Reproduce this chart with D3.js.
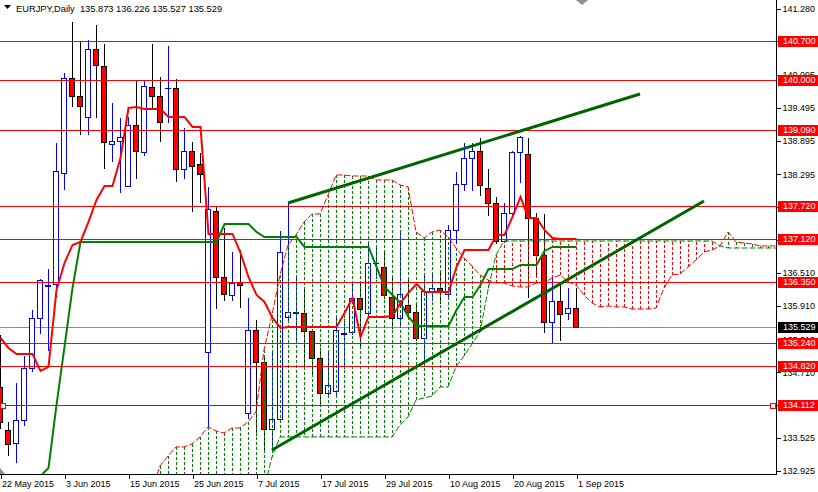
<!DOCTYPE html>
<html><head><meta charset="utf-8">
<script src="https://cdn.jsdelivr.net/npm/d3@7"></script>
<style>
body{margin:0;background:#fff;}
svg{display:block;font-family:"Liberation Sans",Arial,sans-serif;}
</style></head>
<body><svg id="c" width="818" height="492"></svg>
<script>
// ---------- data ----------
const symbolTitle = "EURJPY,Daily  135.873 136.226 135.527 135.529";
const dateLabels = ["22 May 2015","3 Jun 2015","15 Jun 2015","25 Jun 2015","7 Jul 2015","17 Jul 2015","29 Jul 2015","10 Aug 2015","20 Aug 2015","1 Sep 2015"];
const dateTickIndex = [0,8,16,24,32,40,48,56,64,72];
const yTicks = [141.280,140.695,140.095,139.495,138.895,138.295,137.695,137.095,136.510,135.910,135.310,134.710,134.110,133.525,132.925];
const yTicksHiddenLabel = [140.695,137.695,137.095,134.110];

const open = [134.445,133.667,133.432,133.848,134.789,135.693,136.271,136.307,138.315,140.033,
139.707,139.327,140.557,140.250,138.839,138.893,138.080,139.183,138.694,139.870,
139.707,139.845,139.852,138.387,138.712,138.477,135.078,137.628,136.434,136.109,
136.325,133.975,135.476,134.898,133.685,133.866,135.711,135.790,135.783,135.457,
134.970,134.337,134.373,135.410,135.439,136.054,135.783,136.680,136.615,136.072,
135.693,135.928,135.801,135.331,136.163,136.235,136.127,137.284,138.116,138.586,
138.712,138.043,137.772,137.085,137.591,138.694,138.658,137.501,136.832,135.621,
136.000,135.783,135.873];
const high = [135.385,133.812,134.517,135.006,135.837,136.398,136.579,138.857,140.123,141.045,
140.684,140.720,140.991,140.647,139.580,139.309,139.327,139.978,139.978,140.647,
140.051,140.611,140.014,139.128,138.875,138.676,138.062,137.718,137.320,136.886,
136.922,136.054,135.657,134.970,135.078,137.266,137.772,136.416,136.235,135.457,
135.151,135.114,135.747,135.675,136.344,136.344,137.067,136.958,136.922,136.434,
137.284,136.434,135.964,136.506,136.506,136.525,137.374,138.333,138.857,138.857,
138.948,138.387,137.881,137.772,138.712,138.984,138.948,137.591,137.573,136.416,
136.344,136.235,136.226];
const low = [133.703,133.215,133.089,133.758,134.735,135.421,135.114,136.072,138.025,139.526,
139.020,139.020,139.327,138.405,138.532,137.971,138.080,138.224,138.640,139.490,
138.893,139.237,138.170,138.224,137.628,137.790,133.740,135.874,136.018,136.018,
135.892,133.884,133.580,133.306,133.306,133.866,135.621,135.241,134.843,134.698,
134.156,134.300,134.300,134.789,135.403,135.205,135.747,136.416,136.054,135.512,
135.530,135.711,135.295,134.988,136.018,135.964,136.072,137.049,138.007,138.007,
137.917,137.555,137.049,137.067,137.555,138.152,136.072,136.434,135.439,135.259,
135.295,135.675,135.527];
const close = [133.812,133.414,133.848,134.789,135.693,136.380,136.289,138.351,140.033,139.707,
139.526,140.557,140.268,138.875,138.893,138.966,139.183,138.712,139.888,139.707,
139.237,139.852,138.387,138.712,138.441,138.297,137.664,136.434,136.127,136.325,
136.289,135.476,134.898,133.685,133.866,136.886,135.801,135.801,135.457,134.970,
134.337,134.481,135.476,135.421,136.054,135.855,136.687,136.687,136.109,135.693,
136.127,135.801,135.331,136.181,136.235,136.163,137.284,138.116,138.586,138.712,
138.098,137.772,137.085,137.591,138.694,138.966,137.501,136.832,135.621,136.000,
135.765,135.874,135.529];

const tenkan = [135.331,135.150,135.042,135.042,135.042,134.734,134.807,136.199,136.687,137.013,
137.067,137.429,137.826,138.080,138.080,138.586,139.490,139.508,139.472,139.472,
139.472,139.327,139.327,139.327,139.147,139.147,137.212,137.212,137.212,137.212,
136.868,136.434,136.108,135.982,135.693,135.512,135.530,135.530,135.530,135.530,
135.530,135.530,135.530,135.783,136.054,135.349,135.711,135.711,135.711,135.729,
135.964,136.145,136.307,136.163,136.163,136.163,136.163,136.615,136.922,136.922,
136.922,136.922,137.194,137.194,137.519,137.881,137.501,137.501,137.284,137.139,
137.121,137.121,137.121];
const kijun = [132.300,132.300,132.300,132.300,132.300,132.835,132.980,134.119,135.168,136.235,
137.067,137.067,137.067,137.067,137.067,137.067,137.067,137.067,137.067,137.067,
137.067,137.067,137.067,137.067,137.067,137.067,137.067,137.067,137.392,137.392,
137.392,137.392,137.248,137.157,137.157,137.157,137.157,137.157,136.977,136.977,
136.977,136.977,136.977,136.977,136.977,136.977,136.977,136.615,136.253,136.109,
135.964,135.711,135.548,135.548,135.548,135.548,135.548,135.837,136.072,136.072,
136.289,136.579,136.579,136.579,136.579,136.651,136.651,136.651,136.904,136.977,
136.977,136.977,136.977];

const spanStart = 19;
const spanA = [132.582,133.016,133.197,133.360,133.360,133.414,133.541,133.722,133.649,133.613,
133.703,133.703,133.812,133.993,135.114,135.747,136.470,137.013,137.194,137.429,
137.573,137.573,137.917,138.278,138.278,138.260,138.260,138.260,138.188,138.188,
138.188,138.098,138.062,137.248,137.139,137.248,137.284,137.157,136.958,136.778,
136.633,136.470,136.380,136.325,136.325,136.271,136.253,136.253,136.325,136.325,
136.416,136.470,136.344,136.289,136.109,135.964,135.892,135.910,135.892,135.892,
135.855,135.855,135.855,135.874,136.235,136.470,136.488,136.615,136.741,136.886,
136.922,136.995,137.248,137.067,137.049,137.031,136.995,136.995,136.995];
const spanB = [132.300,132.300,132.300,132.300,132.300,132.300,132.300,132.300,132.300,132.300,
132.300,132.300,132.300,132.300,132.600,133.179,133.541,133.541,133.541,133.541,
133.541,133.541,133.541,133.541,133.541,133.541,133.541,133.541,133.541,133.541,
133.541,133.758,133.902,134.210,134.246,134.282,134.445,134.445,134.807,135.006,
135.222,135.440,136.199,136.832,137.085,137.085,137.085,137.085,137.085,137.085,
137.085,137.085,137.085,137.085,137.085,137.085,137.085,137.085,137.085,137.085,
137.085,137.085,137.085,137.085,137.085,137.085,137.085,137.085,137.085,137.085,
137.085,136.995,136.958,136.958,136.958,136.958,136.958,136.958,136.958];

const levels = [140.700,140.000,139.090,137.720,137.120,136.350,135.240,134.820,134.112];
const lastPrice = 135.529;
const trendUpper = [[36,137.772],[80,139.743]];
const trendLower = [[34,133.306],[88,137.808]];

// ---------- drawing ----------
const svg = d3.select("#c");
const plotR = 776, plotB = 474;
const x = d3.scaleLinear().domain([0,97]).range([0,776]);
const y = d3.scaleLinear().domain([132.925,141.280]).range([471,9]);
const px = i => Math.round(x(i));
const py = v => Math.round(y(v));

svg.append("rect").attr("width",818).attr("height",492).attr("fill","#fff");
svg.append("defs").append("clipPath").attr("id","plot")
  .append("rect").attr("x",0).attr("y",0).attr("width",plotR).attr("height",plotB);
const g = svg.append("g").attr("clip-path","url(#plot)");

// current price line (behind)
g.append("line").attr("x1",0).attr("x2",plotR)
  .attr("y1",py(lastPrice)+0.5).attr("y2",py(lastPrice)+0.5)
  .attr("stroke","#8a8f96").attr("shape-rendering","crispEdges");

// candles
const idx = d3.range(open.length);
const cg = g.append("g").attr("shape-rendering","crispEdges");
cg.selectAll("line.wick").data(idx).join("line").attr("class","wick")
  .attr("x1",i=>px(i)+0.5).attr("x2",i=>px(i)+0.5)
  .attr("y1",i=>py(high[i])).attr("y2",i=>py(low[i])+1)
  .attr("stroke",i=>close[i]>=open[i]?"#0000ff":"#000000");
idx.forEach(i=>{
  const bull = close[i]>=open[i];
  const top = py(Math.max(open[i],close[i])), bot = py(Math.min(open[i],close[i]));
  const xc = px(i);
  if (bot-top < 1) {
    cg.append("line").attr("x1",xc-3).attr("x2",xc+3).attr("y1",top+0.5).attr("y2",top+0.5)
      .attr("stroke",bull?"#0000ff":"#000").attr("stroke-width",1);
  } else {
    cg.append("rect").attr("x",xc-2.5).attr("y",top+0.5).attr("width",5).attr("height",bot-top)
      .attr("fill",bull?"#ffffff":"#ff0000").attr("stroke",bull?"#0000ff":"#000000");
  }
});

// ichimoku cloud hatching
const sIdx = d3.range(spanA.length);
g.append("g").attr("shape-rendering","crispEdges")
  .selectAll("line").data(sIdx).join("line")
  .attr("x1",k=>px(k+spanStart)+0.5).attr("x2",k=>px(k+spanStart)+0.5)
  .attr("y1",k=>y(spanA[k])).attr("y2",k=>y(spanB[k]))
  .attr("stroke",k=>spanA[k]>=spanB[k]?"#008000":"#ff0000")
  .attr("stroke-dasharray","3,2").attr("stroke-width",1);

g.append("path").datum(sIdx)
  .attr("d",d3.line().x(k=>x(k+spanStart)).y(k=>y(spanA[k])))
  .attr("fill","none").attr("stroke","#ff0000").attr("stroke-width",1).attr("stroke-dasharray","6,2");
g.append("path").datum(sIdx)
  .attr("d",d3.line().x(k=>x(k+spanStart)).y(k=>y(spanB[k])))
  .attr("fill","none").attr("stroke","#008000").attr("stroke-width",1).attr("stroke-dasharray","6,2");

// kijun and tenkan
g.append("path").datum(idx)
  .attr("d",d3.line().x(i=>x(i)+0.5).y(i=>y(kijun[i])))
  .attr("fill","none").attr("stroke","#008000").attr("stroke-width",2);
g.append("path").datum(idx)
  .attr("d",d3.line().x(i=>x(i)+0.5).y(i=>y(tenkan[i])))
  .attr("fill","none").attr("stroke","#ff0000").attr("stroke-width",2);

// horizontal levels
g.append("g").attr("shape-rendering","crispEdges")
  .selectAll("line").data(levels).join("line")
  .attr("x1",0).attr("x2",plotR)
  .attr("y1",d=>py(d)+0.5).attr("y2",d=>py(d)+0.5)
  .attr("stroke","#ff0000").attr("stroke-width",1);
// anchor squares of selected level 134.112
[0.4,96.6].forEach(i=>{
  g.append("rect").attr("x",x(i)-2.5).attr("y",py(134.112)-2).attr("width",5).attr("height",5)
    .attr("fill","#fff").attr("stroke","#ff0000").attr("shape-rendering","crispEdges");
});

// trend lines
[trendUpper,trendLower].forEach(t=>{
  g.append("path").datum(t)
    .attr("d",d3.line().x(d=>x(d[0])).y(d=>y(d[1])))
    .attr("fill","none").attr("stroke","#006400").attr("stroke-width",3);
});

// small gray markers
g.append("path").attr("d","M576,0 L588,0 L582,5 Z").attr("fill","#8a8f96");
g.append("path").attr("d","M0,468 L5,474 L0,474 Z").attr("fill","#8a8f96");

// axes
const fmt = d3.format(".3f");
const yAxis = d3.axisRight(y).tickValues(yTicks)
  .tickFormat(d=>yTicksHiddenLabel.includes(d)?"":fmt(d)).tickSize(4).tickSizeOuter(0);
const ya = svg.append("g").attr("transform",`translate(${plotR+0.5},0)`).call(yAxis);
ya.select(".domain").remove();
ya.selectAll("line").attr("stroke","#000").attr("shape-rendering","crispEdges");
ya.selectAll("text").attr("x",6).attr("dy","0.33em").attr("font-size","9px")
  .attr("font-family","Liberation Sans, Arial, sans-serif").attr("fill","#000");

const xAxis = d3.axisBottom(x).tickValues(dateTickIndex).tickFormat((d,i)=>dateLabels[i]).tickSize(4).tickSizeOuter(0);
const xa = svg.append("g").attr("transform",`translate(0.5,${plotB+0.5})`).call(xAxis);
xa.select(".domain").remove();
xa.selectAll("line").attr("stroke","#000").attr("shape-rendering","crispEdges");
xa.selectAll("text").attr("text-anchor","start").attr("x",1).attr("y",12.5).attr("dy","0")
  .attr("font-size","9px").attr("font-family","Liberation Sans, Arial, sans-serif").attr("fill","#000");

// frame lines
svg.append("line").attr("x1",plotR+0.5).attr("x2",plotR+0.5).attr("y1",0).attr("y2",plotB+1)
  .attr("stroke","#000").attr("shape-rendering","crispEdges");
svg.append("line").attr("x1",0).attr("x2",plotR+1).attr("y1",plotB+0.5).attr("y2",plotB+0.5)
  .attr("stroke","#000").attr("shape-rendering","crispEdges");

// price labels on axis
const labG = svg.append("g");
levels.forEach(v=>{
  labG.append("rect").attr("x",778).attr("y",py(v)-5).attr("width",40).attr("height",11)
    .attr("fill","#ff0000").attr("shape-rendering","crispEdges");
  labG.append("text").attr("x",783).attr("y",py(v)+0.5).attr("dy","0.33em")
    .attr("font-size","9px").attr("fill","#fff").text(fmt(v));
});
labG.append("rect").attr("x",778).attr("y",py(lastPrice)-5).attr("width",40).attr("height",11)
  .attr("fill","#000").attr("shape-rendering","crispEdges");
labG.append("text").attr("x",783).attr("y",py(lastPrice)+0.5).attr("dy","0.33em")
  .attr("font-size","9px").attr("fill","#fff").text(fmt(lastPrice));

// title
svg.append("path").attr("d","M4,5 L11,5 L7.5,9 Z").attr("fill","#000");
svg.append("text").attr("x",16).attr("y",12).attr("font-size","9.3px").attr("fill","#000")
  .attr("xml:space","preserve").style("white-space","pre").text(symbolTitle);
</script>
</body></html>
